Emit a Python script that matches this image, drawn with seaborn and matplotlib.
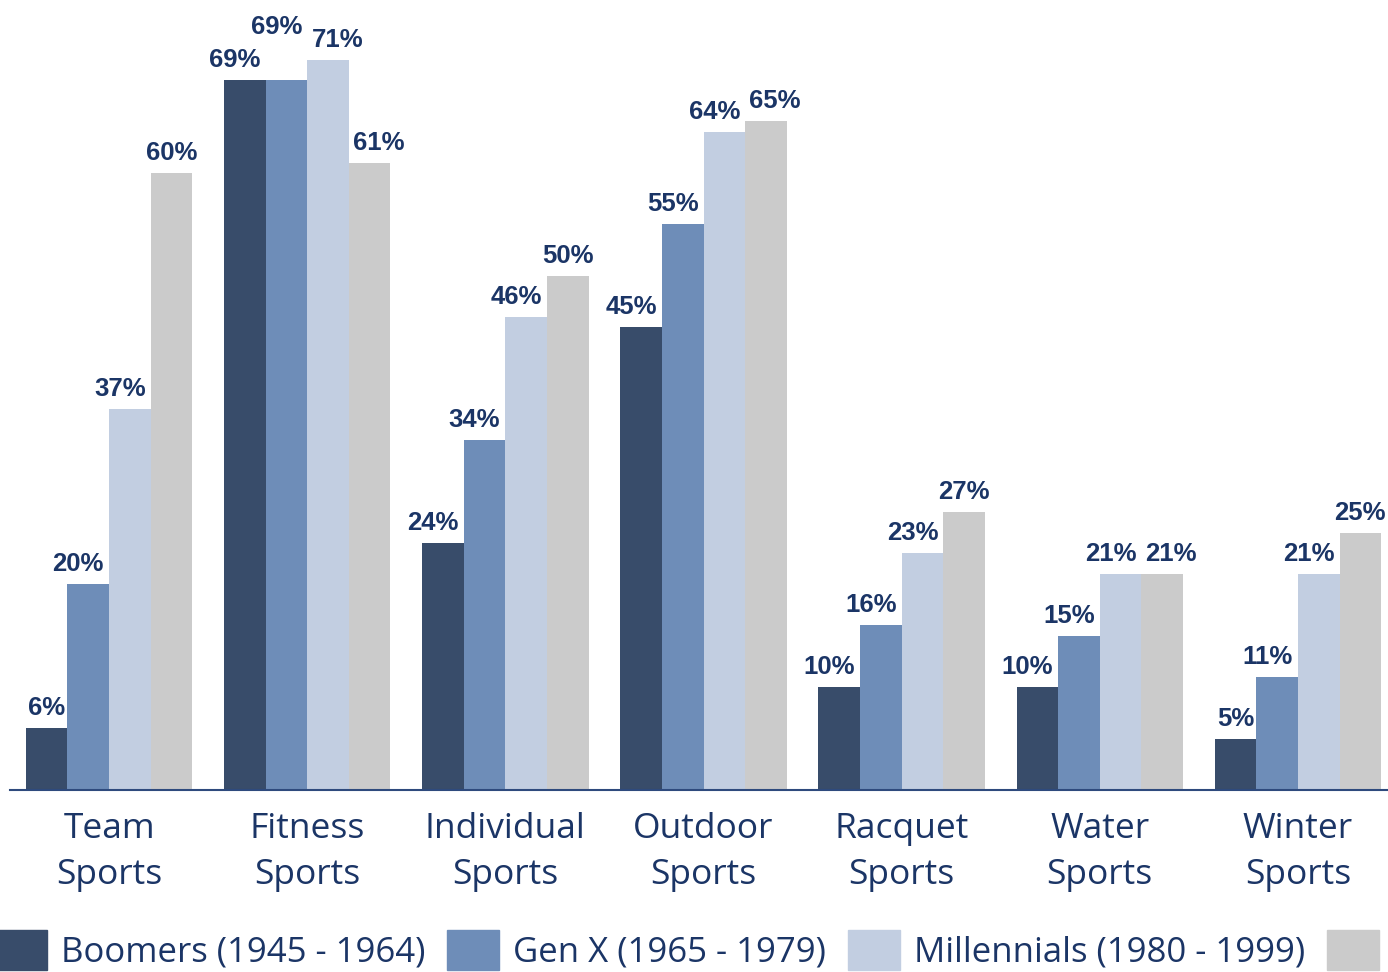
import matplotlib
matplotlib.use("Agg")
import matplotlib.pyplot as plt
import matplotlib.patches as mpatches
import seaborn as sns
import pandas as pd

categories = ["Team\nSports", "Fitness\nSports", "Individual\nSports", "Outdoor\nSports",
              "Racquet\nSports", "Water\nSports", "Winter\nSports"]
series = ["Boomers (1945 - 1964)", "Gen X (1965 - 1979)", "Millennials (1980 - 1999)",
          "Gen Z (2000 - 2012)"]
boomers = [6, 69, 24, 45, 10, 10, 5]
genx = [20, 69, 34, 55, 16, 15, 11]
millennials = [37, 71, 46, 64, 23, 21, 21]
genz = [60, 61, 50, 65, 27, 21, 25]
colors = ["#384C6A", "#6E8DB8", "#C2CEE1", "#CBCBCB"]

sns.set_theme(style="white")
plt.rcParams["font.family"] = ["Open Sans", "DejaVu Sans"]

text_color = "#1B3566"

rows = []
for s, vals in zip(series, [boomers, genx, millennials, genz]):
    for c, v in zip(categories, vals):
        rows.append({"category": c, "series": s, "value": v})
df = pd.DataFrame(rows)

fig = plt.figure(figsize=(13.88, 9.72), dpi=100)
ax = fig.add_axes([10 / 1388, 1 - 790 / 972, 1387 / 1388, 790 / 972])

sns.barplot(data=df, x="category", y="value", hue="series", order=categories,
            hue_order=series, palette=colors, width=0.84, saturation=1,
            linewidth=0, ax=ax, legend=False)

ax.set_ylim(0, 76.8)
ax.set_xlim(-0.5, 6.5)
ax.set_xlabel("")
ax.set_ylabel("")
ax.set_yticks([])
for side in ["left", "right", "top"]:
    ax.spines[side].set_visible(False)
ax.spines["bottom"].set_color("#2E4A7D")
ax.spines["bottom"].set_linewidth(1.5)
ax.tick_params(axis="x", length=0, pad=16, labelsize=25.5, labelcolor=text_color)
for lab in ax.get_xticklabels():
    lab.set_linespacing(1.45)

# label nudges in pixels (series index, category index) -> (dx, dy); default dx=-10
nudges = {(0, 0): (0, 0), (3, 0): (0, 0), (1, 1): (-10, 33), (2, 1): (10, 0),
          (3, 1): (9, 0), (3, 2): (0, 0), (3, 3): (9, 0), (3, 4): (0, 0),
          (3, 5): (9, 0), (0, 6): (0, 0), (3, 6): (0, 0)}
px = 0.72
for si, cont in enumerate(ax.containers):
    for ci, bar in enumerate(cont):
        v = cont.datavalues[ci]
        dx, dy = nudges.get((si, ci), (-10, 0))
        ax.annotate(f"{v:.0f}%", (bar.get_x() + bar.get_width() / 2, bar.get_height()),
                    xytext=(dx * px, (8 + dy) * px), textcoords="offset points",
                    ha="center", va="bottom", fontsize=18.5, fontweight="bold",
                    color=text_color, family=["Liberation Sans", "DejaVu Sans"])

handles = [mpatches.Patch(color=c, label=s) for c, s in zip(colors, series)]
leg = fig.legend(handles=handles, loc="center left",
                 bbox_to_anchor=(-5 / 1388, 1 - 950 / 972),
                 ncol=4, frameon=False, fontsize=25.0, borderpad=0, borderaxespad=0,
                 handlelength=1.5, handleheight=1.4, handletextpad=0.4,
                 columnspacing=0.63)
for t in leg.get_texts():
    t.set_color(text_color)

fig.savefig("out.png", dpi=100)
